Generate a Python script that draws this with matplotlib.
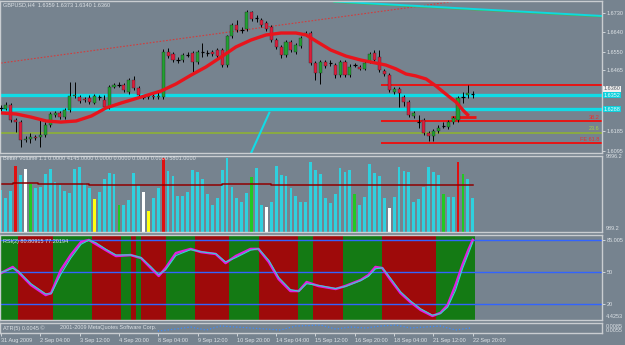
import matplotlib
matplotlib.use("Agg")
import matplotlib.pyplot as plt

# ---- GBPUSD H4, 97 bars ----
opens = [1.6292, 1.6288, 1.6306, 1.6237, 1.6228, 1.6145, 1.6150, 1.6159, 1.6159, 1.6168,
         1.6214, 1.6260, 1.6269, 1.6251, 1.6283, 1.6347, 1.6343, 1.6334, 1.6338, 1.6315,
         1.6343, 1.6329, 1.6297, 1.6389, 1.6398, 1.6398, 1.6366, 1.6421, 1.6384, 1.6343,
         1.6343, 1.6347, 1.6343, 1.6343, 1.6549, 1.6540, 1.6513, 1.6513, 1.6536, 1.6545,
         1.6503, 1.6549, 1.6545, 1.6549, 1.6559, 1.6559, 1.6490, 1.6623, 1.6673, 1.6650,
         1.6655, 1.6733, 1.6705, 1.6696, 1.6682, 1.6664, 1.6604, 1.6572, 1.6536, 1.6595,
         1.6549, 1.6577, 1.6627, 1.6637, 1.6499, 1.6453, 1.6503, 1.6499, 1.6490, 1.6444,
         1.6503, 1.6444, 1.6490, 1.6481, 1.6471, 1.6503, 1.6545, 1.6526, 1.6462, 1.6444,
         1.6366, 1.6380, 1.6343, 1.6320, 1.6256, 1.6228, 1.6237, 1.6178, 1.6164, 1.6187,
         1.6210, 1.6205, 1.6228, 1.6237, 1.6343, 1.6352, 1.6359]
closes = [1.6292, 1.6306, 1.6237, 1.6228, 1.6145, 1.6150, 1.6159, 1.6155, 1.6168, 1.6214,
          1.6265, 1.6269, 1.6251, 1.6283, 1.6347, 1.6352, 1.6324, 1.6329, 1.6320, 1.6347,
          1.6343, 1.6297, 1.6389, 1.6398, 1.6398, 1.6375, 1.6421, 1.6384, 1.6352, 1.6343,
          1.6347, 1.6343, 1.6347, 1.6549, 1.6531, 1.6513, 1.6513, 1.6536, 1.6536, 1.6503,
          1.6549, 1.6549, 1.6545, 1.6540, 1.6531, 1.6490, 1.6623, 1.6673, 1.6650, 1.6650,
          1.6733, 1.6701, 1.6705, 1.6673, 1.6655, 1.6604, 1.6572, 1.6536, 1.6595, 1.6559,
          1.6581, 1.6614, 1.6637, 1.6499, 1.6453, 1.6503, 1.6485, 1.6499, 1.6444, 1.6503,
          1.6444, 1.6481, 1.6490, 1.6471, 1.6499, 1.6540, 1.6513, 1.6467, 1.6448, 1.6375,
          1.6380, 1.6361, 1.6320, 1.6260, 1.6269, 1.6228, 1.6178, 1.6164, 1.6187, 1.6201,
          1.6210, 1.6228, 1.6246, 1.6338, 1.6343, 1.6361, 1.6360]
highs = [1.6306, 1.6320, 1.6315, 1.6246, 1.6237, 1.6164, 1.6178, 1.6168, 1.6246, 1.6228,
         1.6274, 1.6279, 1.6279, 1.6292, 1.6412, 1.6412, 1.6352, 1.6343, 1.6352, 1.6357,
         1.6352, 1.6352, 1.6398, 1.6407, 1.6412, 1.6407, 1.6430, 1.6439, 1.6393, 1.6352,
         1.6352, 1.6357, 1.6366, 1.6563, 1.6568, 1.6549, 1.6526, 1.6545, 1.6549, 1.6554,
         1.6559, 1.6591, 1.6559, 1.6559, 1.6568, 1.6568, 1.6627, 1.6682, 1.6696, 1.6664,
         1.6742, 1.6738, 1.6719, 1.6705, 1.6692, 1.6673, 1.6614, 1.6581, 1.6604, 1.6604,
         1.6591, 1.6623, 1.6646, 1.6646, 1.6508, 1.6513, 1.6513, 1.6513, 1.6499, 1.6513,
         1.6513, 1.6494, 1.6499, 1.6490, 1.6508, 1.6549, 1.6559, 1.6559, 1.6471, 1.6453,
         1.6389, 1.6389, 1.6352, 1.6329, 1.6279, 1.6260, 1.6246, 1.6187, 1.6196, 1.6214,
         1.6228, 1.6237, 1.6256, 1.6347, 1.6366, 1.6398, 1.6373]
lows = [1.6279, 1.6283, 1.6228, 1.6182, 1.6113, 1.6136, 1.6132, 1.6145, 1.6113, 1.6159,
        1.6205, 1.6251, 1.6242, 1.6242, 1.6274, 1.6338, 1.6315, 1.6320, 1.6311, 1.6311,
        1.6329, 1.6288, 1.6288, 1.6384, 1.6389, 1.6366, 1.6357, 1.6375, 1.6343, 1.6334,
        1.6334, 1.6334, 1.6334, 1.6334, 1.6522, 1.6503, 1.6499, 1.6503, 1.6526, 1.6453,
        1.6494, 1.6526, 1.6531, 1.6531, 1.6522, 1.6481, 1.6481, 1.6614, 1.6641, 1.6637,
        1.6646, 1.6692, 1.6687, 1.6664, 1.6646, 1.6595, 1.6563, 1.6522, 1.6526, 1.6549,
        1.6540, 1.6568, 1.6623, 1.6490, 1.6421, 1.6402, 1.6476, 1.6485, 1.6430, 1.6435,
        1.6435, 1.6435, 1.6481, 1.6467, 1.6467, 1.6499, 1.6503, 1.6458, 1.6439, 1.6366,
        1.6357, 1.6297, 1.6301, 1.6251, 1.6246, 1.6201, 1.6168, 1.6141, 1.6141, 1.6178,
        1.6201, 1.6196, 1.6219, 1.6228, 1.6315, 1.6338, 1.6340]

# thick red moving average (bar index, price)
ma_x = [0, 3.1, 6.1, 9.2, 12.2, 15.3, 18.4, 21.4, 24.5, 28.5, 32.6, 35.6, 38.7, 41.7, 44.8,
        47.8, 50.9, 53.9, 57.0, 60.0, 62.1, 64.1, 67.1, 70.2, 73.2, 76.3, 78.3, 80.4, 82.4,
        84.4, 86.5, 88.5, 90.5, 92.6, 94.0, 95.2]
ma_y = [1.6270, 1.6265, 1.6251, 1.6233, 1.6228, 1.6233, 1.6256, 1.6293, 1.6316, 1.6343,
        1.6371, 1.6403, 1.6444, 1.6481, 1.6527, 1.6573, 1.6605, 1.6628, 1.6637, 1.6637,
        1.6628, 1.6600, 1.6559, 1.6531, 1.6513, 1.6499, 1.6490, 1.6472, 1.6449, 1.6440,
        1.6426, 1.6394, 1.6357, 1.6320, 1.6283, 1.6256]

cyan_levels = [1.6352, 1.6288]
green_level = 1.6179
red_levels = [1.6397, 1.6233, 1.6132]
red_level_labels = ["", "38.2", "FE 61.8"]
red_level_start = 77.3
price_ticks = [1.6730, 1.6640, 1.6550, 1.6465, 1.6185, 1.6095]
price_tick_labels = ["1.6730", "1.6640", "1.6550", "1.6465", "1.6185", "1.6095"]

# volume pane
volumes = [5250, 4250, 5125, 8250, 7125, 7875, 6000, 5500, 5625, 7250,
           7875, 6250, 5875, 5125, 4875, 7875, 8125, 6125, 5500, 4125,
           5000, 6625, 7375, 7250, 3375, 3375, 4000, 7375, 5875, 5000,
           2625, 4250, 5500, 9250, 7625, 7000, 4500, 4500, 5000, 7750,
           7500, 6625, 4750, 3375, 4250, 7750, 9250, 5625, 4250, 3750,
           4875, 6875, 8000, 3375, 3125, 3750, 8250, 7125, 7000, 5500,
           4500, 3750, 3750, 8750, 7750, 7250, 4250, 3625, 4750, 8000,
           7500, 7750, 4750, 3375, 4375, 8500, 7375, 7000, 4250, 3000,
           4375, 8125, 7625, 7500, 3750, 4125, 5625, 8125, 7500, 7125,
           4750, 4375, 4375, 8750, 7250, 6625, 4250]
vol_red = [3, 33, 93]
vol_white = [5, 29, 54, 79]
vol_green = [6, 24, 51, 72, 90, 94]
vol_yellow = [19, 30]
vol_ma_x = [0, 5, 10, 16, 20, 30, 40, 50, 60, 70, 80, 90, 96]
vol_ma = [6000, 6100, 5950, 6050, 5900, 5850, 5900, 5950, 5850, 5900, 5900, 5850, 5900]

# RSI pane
rsi_x = [0, 2.4, 3.5, 6.1, 9.1, 10.2, 12.2, 14.2, 16.3, 17.9, 19.3, 21.3, 23.4, 26.4, 28.5,
         30.5, 32.1, 33.5, 35.6, 38.6, 40.7, 43.7, 45.7, 47.8, 50.8, 52.4, 54.5, 56.5, 58.9,
         60.6, 62.2, 64.6, 68.1, 70.1, 73.2, 74.8, 76.2, 77.6, 79.3, 81.3, 83.3, 85.4, 87.8,
         89.4, 90.9, 92.5, 93.9, 95.1, 96.0]
rsi_fast = [49, 54.7, 50, 37.8, 28.4, 30.3, 51.9, 65.9, 78.1, 80, 76.2, 70.6, 65, 65.9, 63.1,
            53.7, 46.3, 53.7, 67.8, 71.6, 68.7, 66.9, 58.4, 65, 71.6, 71.6, 59.4, 43.4, 32.2,
            32.2, 40.6, 36.9, 34.1, 36.9, 42.5, 47.2, 54.7, 53.7, 42.5, 30.3, 21.9, 14.4, 8.8,
            11.6, 19.1, 37.8, 56.6, 70.6, 80]
rsi_slow = [49.5, 53.5, 51, 39, 29.5, 29.5, 48, 63, 76, 80, 77.5, 71.5, 66, 66, 63.5,
            55, 47.5, 52, 65.5, 71, 69, 67.2, 59.5, 63.5, 70.5, 71.8, 61, 45, 33.5,
            32, 39, 37.5, 34.5, 36.5, 42, 46, 53, 54, 44, 31.5, 23, 15.5, 9.5,
            11, 17, 33, 53, 67, 78]
green_start = [-0.5, 10.5, 24.5, 27.5, 33.5, 46.5, 60.5, 69.5, 88.5]
green_end = [3.5, 18.5, 26.5, 28.5, 39.5, 52.5, 63.5, 77.5, 96.5]
rsi_levels = [80, 50, 20]

# small bottom pane (dotted blue line)
atr_x = [31.9, 35.6, 38.6, 41.7, 44.7, 47.8, 50.8, 53.9, 56.9, 60.0, 63.0, 65.0, 68.1, 71.1,
         74.2, 77.2, 80.3, 83.3, 86.4, 89.4, 92.5, 95.5]
atr_v = [0.0052, 0.0064, 0.0076, 0.0058, 0.0082, 0.0076, 0.0070, 0.0064, 0.0058, 0.0082,
         0.0085, 0.0088, 0.0064, 0.0076, 0.0070, 0.0082, 0.0088, 0.0070, 0.0076, 0.0082,
         0.0058, 0.0070]

time_ticks = [0, 8, 16, 24, 32, 40, 48, 56, 64, 72, 80, 88, 96]
time_labels = ["31 Aug 2009", "2 Sep 04:00", "3 Sep 12:00", "4 Sep 20:00", "8 Sep 04:00",
               "9 Sep 12:00", "10 Sep 20:00", "14 Sep 04:00", "15 Sep 12:00", "16 Sep 20:00",
               "18 Sep 04:00", "21 Sep 12:00", "22 Sep 20:00"]

# ---- styling ----
W, H = 625, 345
BG = "#76838f"
TXT = "#dde2e6"
FRAME = "#c9cdd1"
FS = 4.0
XLIM = (-0.2, 122.3)
plt.rcParams["font.family"] = ["Liberation Sans", "DejaVu Sans"]

fig = plt.figure(figsize=(W / 100, H / 100), dpi=100)
fig.patch.set_facecolor(BG)


def pane(top, bottom):
    ax = fig.add_axes([0, 1 - bottom / H, 602 / W, (bottom - top) / H])
    ax.set_facecolor(BG)
    ax.set_xlim(*XLIM)
    ax.set_xticks([])
    ax.yaxis.tick_right()
    ax.tick_params(axis="y", colors=TXT, labelsize=FS, length=2, width=0.6, pad=1.2)
    for s in ax.spines.values():
        s.set_color(FRAME)
        s.set_linewidth(1.0)
    return ax


def ftext(x, y, s, **kw):
    fig.text(x / W, 1 - y / H, s, color=TXT, fontsize=FS, va="center", **kw)


xs = list(range(len(opens)))

# ---- main price pane ----
ax = pane(1, 153)
ax.set_ylim(1.6086, 1.6784)
ax.set_yticks(price_ticks)
ax.set_yticklabels(price_tick_labels)

ax.plot([0, 92.5], [1.6499, 1.6783], color="#d23c3c", lw=0.8, ls=(0, (1.5, 1.5)))
ax.plot([67.8, 122.6], [1.6779, 1.6712], color="#40c040", lw=1.0)
ax.plot([67.8, 122.6], [1.6782, 1.6715], color="#10d8e0", lw=1.4)
ax.axhline(green_level, color="#8cae3c", lw=1.3)
for lv in cyan_levels:
    ax.axhline(lv, color="#10dce6", lw=2.4)
for lv, lab in zip(red_levels, red_level_labels):
    ax.hlines(lv, red_level_start, XLIM[1], color="#e81414", lw=1.4)
    if lab:
        ax.text(121.8, lv + 0.0006, lab, color="#e83030", fontsize=FS, ha="right", va="bottom")
ax.text(121.8, green_level + 0.0006, "23.6", color="#a8d048", fontsize=FS, ha="right", va="bottom")
ax.plot([50.9, 54.6], [1.6086, 1.6271], color="#10dce6", lw=1.5)
ax.hlines(1.6251, 91.5, 96.6, color="#e81414", lw=2.0)

ax.vlines(xs, lows, highs, color="black", lw=0.7, zorder=3)
for i in xs:
    o, c = opens[i], closes[i]
    if abs(c - o) < 0.0002:
        ax.hlines(o, i - 0.35, i + 0.35, color="black", lw=0.9, zorder=4)
    else:
        col = "#22a032" if c > o else "#dc1e3c"
        ax.bar(i, abs(c - o), bottom=min(o, c), width=0.62, color=col,
               edgecolor="#202020", linewidth=0.25, zorder=4)
ax.plot(ma_x, ma_y, color="#e8141c", lw=2.4, zorder=5, solid_capstyle="butt")

box = dict(boxstyle="square,pad=0.1", lw=0)
ax.text(1.003, 1.6381, "1.6360", transform=ax.get_yaxis_transform(), color="#505a64",
        fontsize=FS, va="center", bbox=dict(box, fc="#f0f0f0"), clip_on=False)
for lv in cyan_levels:
    ax.text(1.003, lv, "%.4f" % lv, transform=ax.get_yaxis_transform(), color="#e8ffff",
            fontsize=FS, va="center", bbox=dict(box, fc="#10d0dc"), clip_on=False)

# ---- volume pane ----
axv = pane(156, 232)
axv.set_ylim(0, 9500)
axv.set_yticks([])
vcols = []
for i in xs:
    if i in vol_red:
        vcols.append("#e01010")
    elif i in vol_white:
        vcols.append("#ffffff")
    elif i in vol_green:
        vcols.append("#22c822")
    elif i in vol_yellow:
        vcols.append("#ffff10")
    else:
        vcols.append("#2fd0de")
axv.bar(xs, volumes, width=0.58, color=vcols, linewidth=0)
axv.plot(vol_ma_x, vol_ma, color="#900000", lw=1.1, drawstyle="steps-mid")

# ---- RSI pane ----
axr = pane(235, 320)
axr.set_ylim(5.0, 84.7)
axr.set_yticks(rsi_levels)
axr.set_yticklabels(["85.005", "50", "20"])
axr.axvspan(-0.5, 96.5, color="#9e0a0a", lw=0)
for a, b in zip(green_start, green_end):
    axr.axvspan(a, b, color="#147a14", lw=0)
for lv in rsi_levels:
    axr.axhline(lv, color="#3264ff", lw=1.0)
axr.plot(rsi_x, rsi_fast, color="#e020e0", lw=1.8)
axr.plot(rsi_x, rsi_slow, color="#30d8d0", lw=0.8)

# ---- small bottom pane ----
axs = pane(323, 333)
axs.set_ylim(0.0040, 0.0100)
axs.set_yticks([])
axs.plot(atr_x, atr_v, color="#3c8cff", lw=0.9, ls=":")
axs.set_xticks(time_ticks)
axs.set_xticklabels(time_labels)
axs.tick_params(axis="x", colors=TXT, labelsize=FS, length=2.5, width=0.6, pad=0.8)
for t in axs.get_xticklabels():
    t.set_ha("left")

# ---- captions ----
ftext(3, 5, "GBPUSD,H4  1.6359 1.6373 1.6340 1.6360")
ftext(3, 159, "Better Volume 1.1 0.0000 4145.0000 0.0000 0.0000 0.0000 0.0000 5801.0000")
ftext(3, 241, "RSI(2) 80.80915 77.20194")
ftext(3, 328, "ATR(5) 0.0045 \u00a9")
ftext(60, 328, "2001-2009 MetaQuotes Software Corp.")
ftext(606, 157, "9896.2")
ftext(606, 229, "989.2")
ftext(606, 317, "4.4253")
ftext(606, 326, "0.0085")
ftext(606, 331, "0.0055")

fig.savefig("out.png", dpi=100, facecolor=BG)
